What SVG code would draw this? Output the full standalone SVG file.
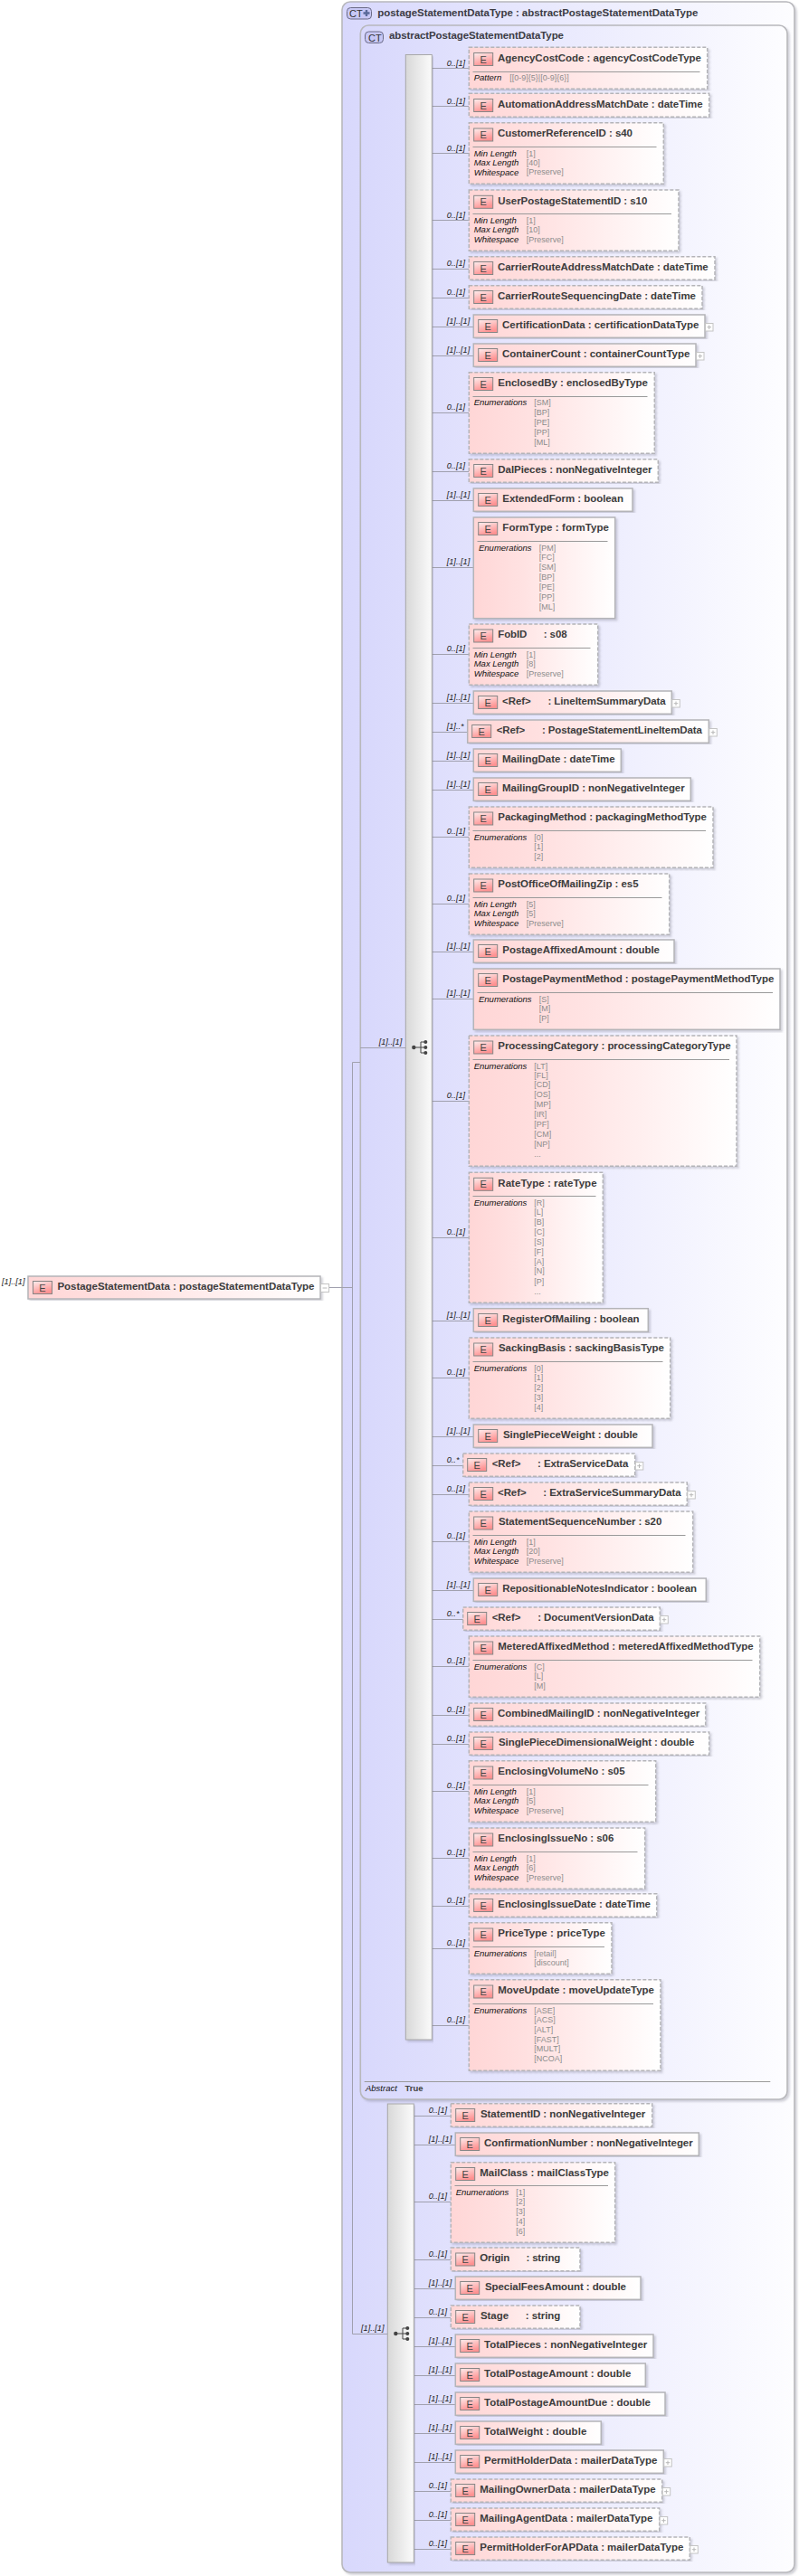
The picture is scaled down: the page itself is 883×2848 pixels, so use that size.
<svg xmlns="http://www.w3.org/2000/svg" width="883" height="2848" viewBox="0 0 883 2848">
<style>
text{font-family:"Liberation Sans",Arial,sans-serif;white-space:pre}
.n,.o{fill:url(#nf);stroke:#b4b4b8;stroke-width:1.5;filter:url(#sh)}
.o{stroke-dasharray:4 2}
.e{fill:url(#ef);stroke:#858585;stroke-width:1}
.el{font-size:11px;fill:#444;text-anchor:middle}
.nm{font-size:11.5px;font-weight:bold;fill:#3c3c3c}
.sp{stroke:#9a9a9a;stroke-width:1;fill:none}
.fl{font-size:9.5px;font-style:italic;fill:#111}
.fv{font-size:9px;fill:#8c8c8c}
.c{stroke:#a0a0ae;stroke-width:1;fill:none}
.m{font-size:9.2px;font-style:italic;fill:#222}
.pb{fill:#fff;stroke:#c4c4c4;stroke-width:1}
.pl{stroke:#b8b8b8;stroke-width:1;fill:none}
.box{stroke:#b8b8bc;stroke-width:1.6;filter:url(#sh)}
.seq{fill:url(#sf);stroke:#a8a8a8;stroke-width:1;filter:url(#sh)}
.pill{fill:#c8c8f6;stroke:#6a6a86;stroke-width:1}
.pt{font-size:11px;fill:#333}
.ti{font-size:11.5px;font-weight:bold;fill:#3c3c44}
.ic{fill:#444;stroke:none}
.il{stroke:#444;stroke-width:1;fill:none}
</style>
<defs>
<linearGradient id="nf" x1="0" x2="1" y1="0" y2="0"><stop offset="0" stop-color="#ffd6d6"/><stop offset="0.35" stop-color="#ffe2e2"/><stop offset="1" stop-color="#ffffff"/></linearGradient>
<linearGradient id="ef" x1="0" x2="0.4" y1="0" y2="1"><stop offset="0" stop-color="#fdeeee"/><stop offset="1" stop-color="#ff9292"/></linearGradient>
<linearGradient id="bf" x1="0" x2="1" y1="0" y2="0"><stop offset="0" stop-color="#d8d8fc"/><stop offset="1" stop-color="#fdfdff"/></linearGradient>
<linearGradient id="sf" x1="0" x2="1" y1="0" y2="0"><stop offset="0" stop-color="#d8d8d8"/><stop offset="1" stop-color="#fbfbfb"/></linearGradient>
<filter id="sh" x="-5%" y="-5%" width="110%" height="110%"><feDropShadow dx="2" dy="2" stdDeviation="1" flood-color="#707080" flood-opacity="0.3"/></filter>
</defs>
<rect width="883" height="2848" fill="#fff"/>

<g id="type-postageStatementDataType">
<rect class="box" x="378" y="2" width="500" height="2842" rx="9" fill="url(#bf)"/>
<rect class="pill" x="383.5" y="8.5" width="27" height="12.5" rx="4"/>
<text class="pt" x="386" y="19">CT</text>
<path d="M405 11v7M401.5 14.5h7" stroke="#5a6a9a" stroke-width="2.4" fill="none"/>
<text class="ti" x="417.3" y="18" textLength="354">postageStatementDataType : abstractPostageStatementDataType</text>
</g>
<g id="type-abstractPostageStatementDataType">
<rect class="box" x="398.3" y="28" width="471.7" height="2293" rx="9" fill="url(#bf)"/>
<rect class="pill" x="403.5" y="35" width="20" height="12.5" rx="4"/>
<text class="pt" x="407" y="45.5">CT</text>
<text class="ti" x="430" y="43" textLength="193">abstractPostageStatementDataType</text>
<path class="sp" d="M402.7 2301.5H851.3"/>
<text class="fl" x="404" y="2311.5">Abstract</text>
<text x="447.5" y="2311.5" style="font-size:9.5px;font-weight:bold;fill:#444">True</text>
</g>

<g id="connectors">
<path class="c" d="M363 1423.5H389.5M389.5 2580.5V1174.5H398M398 1158.5H448M389.5 2580.5H428"/>
<path class="c" d="M477 75.5H518M477 117.5H518M477 169.5H518M477 243.5H518M477 297.5H518M477 329.5H518M477 361.5H523M477 393.5H523M477 456.5H518M477 521.5H518M477 553.5H523M477 627.5H523M477 723.5H518M477 777.5H523M477 809.5H517M477 841.5H523M477 873.5H523M477 925.5H518M477 999.5H518M477 1052.5H523M477 1104.5H523M477 1217.5H518M477 1368.5H518M477 1460.5H523M477 1523.5H518M477 1588.5H523M477 1620.5H512M477 1652.5H518M477 1704.5H518M477 1758.5H523M477 1790.5H512M477 1842.5H518M477 1896.5H518M477 1928.5H518M477 1980.5H518M477 2054.5H518M477 2107.5H518M477 2154.5H518M477 2239.5H518"/>
<path class="c" d="M458 2339.5H498M458 2371.5H503M458 2434.5H498M458 2498.5H498M458 2530.5H503M458 2562.5H498M458 2594.5H503M458 2626.5H503M458 2658.5H503M458 2690.5H503M458 2722.5H503M458 2754.5H498M458 2786.5H498M458 2818.5H498"/>
<text class="m" x="2" y="1420">[1]..[1]</text>
<text class="m" x="418.7" y="1155">[1]..[1]</text>
<text class="m" x="399" y="2577">[1]..[1]</text>
<text class="m" x="493.7" y="72.5">0..[1]</text>
<text class="m" x="493.7" y="114.5">0..[1]</text>
<text class="m" x="493.7" y="166.5">0..[1]</text>
<text class="m" x="493.7" y="240.5">0..[1]</text>
<text class="m" x="493.7" y="294">0..[1]</text>
<text class="m" x="493.7" y="326">0..[1]</text>
<text class="m" x="493.7" y="358">[1]..[1]</text>
<text class="m" x="493.7" y="390">[1]..[1]</text>
<text class="m" x="493.7" y="453">0..[1]</text>
<text class="m" x="493.7" y="518">0..[1]</text>
<text class="m" x="493.7" y="550">[1]..[1]</text>
<text class="m" x="493.7" y="624">[1]..[1]</text>
<text class="m" x="493.7" y="720">0..[1]</text>
<text class="m" x="493.7" y="774">[1]..[1]</text>
<text class="m" x="493.7" y="806">[1]..*</text>
<text class="m" x="493.7" y="838">[1]..[1]</text>
<text class="m" x="493.7" y="870">[1]..[1]</text>
<text class="m" x="493.7" y="922">0..[1]</text>
<text class="m" x="493.7" y="996">0..[1]</text>
<text class="m" x="493.7" y="1049">[1]..[1]</text>
<text class="m" x="493.7" y="1101">[1]..[1]</text>
<text class="m" x="493.7" y="1214">0..[1]</text>
<text class="m" x="493.7" y="1365">0..[1]</text>
<text class="m" x="493.7" y="1457">[1]..[1]</text>
<text class="m" x="493.7" y="1520">0..[1]</text>
<text class="m" x="493.7" y="1585">[1]..[1]</text>
<text class="m" x="493.7" y="1617">0..*</text>
<text class="m" x="493.7" y="1649">0..[1]</text>
<text class="m" x="493.7" y="1701">0..[1]</text>
<text class="m" x="493.7" y="1755">[1]..[1]</text>
<text class="m" x="493.7" y="1787">0..*</text>
<text class="m" x="493.7" y="1839">0..[1]</text>
<text class="m" x="493.7" y="1893">0..[1]</text>
<text class="m" x="493.7" y="1925">0..[1]</text>
<text class="m" x="493.7" y="1977">0..[1]</text>
<text class="m" x="493.7" y="2051">0..[1]</text>
<text class="m" x="493.7" y="2104">0..[1]</text>
<text class="m" x="493.7" y="2151">0..[1]</text>
<text class="m" x="493.7" y="2236">0..[1]</text>
<text class="m" x="473.7" y="2336">0..[1]</text>
<text class="m" x="473.7" y="2368">[1]..[1]</text>
<text class="m" x="473.7" y="2431">0..[1]</text>
<text class="m" x="473.7" y="2495">0..[1]</text>
<text class="m" x="473.7" y="2527">[1]..[1]</text>
<text class="m" x="473.7" y="2559">0..[1]</text>
<text class="m" x="473.7" y="2591">[1]..[1]</text>
<text class="m" x="473.7" y="2623">[1]..[1]</text>
<text class="m" x="473.7" y="2655">[1]..[1]</text>
<text class="m" x="473.7" y="2687">[1]..[1]</text>
<text class="m" x="473.7" y="2719">[1]..[1]</text>
<text class="m" x="473.7" y="2751">0..[1]</text>
<text class="m" x="473.7" y="2783">0..[1]</text>
<text class="m" x="473.7" y="2815">0..[1]</text>
</g>

<g id="seq-1">
<rect class="seq" x="448.3" y="60.5" width="29" height="2194.5"/>
<circle class="ic" cx="457.3" cy="1158" r="2.2"/><circle class="ic" cx="470.3" cy="1152" r="2"/><circle class="ic" cx="470.3" cy="1158" r="2"/><circle class="ic" cx="470.3" cy="1164" r="2"/>
<path class="il" d="M457.3 1158H470M465 1152H470M465 1164H470M465 1152V1164"/>
</g>
<g id="seq-2">
<rect class="seq" x="428.3" y="2326" width="29" height="507"/>
<circle class="ic" cx="437.3" cy="2580" r="2.2"/><circle class="ic" cx="450.3" cy="2574" r="2"/><circle class="ic" cx="450.3" cy="2580" r="2"/><circle class="ic" cx="450.3" cy="2586" r="2"/>
<path class="il" d="M437.3 2580H450M445 2574H450M445 2586H450M445 2574V2586"/>
</g>

<g id="PostageStatementData">
<rect class="n" x="31" y="1411" width="323" height="25"/><rect class="e" x="36.5" y="1416.5" width="21" height="14"/><text class="el" x="47" y="1428">E</text>
<text class="nm" x="63.5" y="1425.5" textLength="284">PostageStatementData : postageStatementDataType</text>
<rect class="pb" x="354.5" y="1419.5" width="9" height="9"/><path class="pl" d="M356.5 1424H361.5"/>
</g>

<g id="AgencyCostCode"><rect class="o" x="518.3" y="52.3" width="263.4" height="46"/><rect class="e" x="523.7" y="58.5" width="21" height="14"/><text class="el" x="534.2" y="69.5">E</text><text class="nm" x="550" y="68" textLength="225">AgencyCostCode : agencyCostCodeType</text><path class="sp" d="M522.5 79.5H773.5"/><text class="fl" x="523.7" y="89.3">Pattern</text><text class="fv" x="563.3" y="89">[[0-9]{5}|[0-9]{6}]</text></g>
<g id="AutomationAddressMatchDate"><rect class="o" x="518.3" y="103.3" width="265.4" height="26"/><rect class="e" x="523.7" y="109.5" width="21" height="14"/><text class="el" x="534.2" y="120.5">E</text><text class="nm" x="550" y="119" textLength="226.7">AutomationAddressMatchDate : dateTime</text></g>
<g id="CustomerReferenceID"><rect class="o" x="518.3" y="135.7" width="215" height="67.6"/><rect class="e" x="523.7" y="142" width="21" height="14"/><text class="el" x="534.2" y="153">E</text><text class="nm" x="550" y="151.2" textLength="149">CustomerReferenceID : s40</text><path class="sp" d="M522.5 162.5H725.5"/><text class="fl" x="523.7" y="172.7">Min Length</text><text class="fl" x="523.7" y="182.7">Max Length</text><text class="fl" x="523.7" y="193.5">Whitespace</text><text class="fv" x="581.7" y="172.5">[1]</text><text class="fv" x="581.7" y="182.5">[40]</text><text class="fv" x="581.7" y="193.2">[Preserve]</text></g>
<g id="UserPostageStatementID"><rect class="o" x="518.3" y="210" width="231.7" height="67.3"/><rect class="e" x="523.7" y="216.3" width="21" height="14"/><text class="el" x="534.2" y="227.3">E</text><text class="nm" x="550.3" y="225.5" textLength="165">UserPostageStatementID : s10</text><path class="sp" d="M522.5 236.5H742H742"/><text class="fl" x="523.7" y="247">Min Length</text><text class="fl" x="523.7" y="257">Max Length</text><text class="fl" x="523.7" y="267.8">Whitespace</text><text class="fv" x="581.7" y="246.8">[1]</text><text class="fv" x="581.7" y="256.8">[10]</text><text class="fv" x="581.7" y="267.5">[Preserve]</text></g>
<g id="CarrierRouteAddressMatchDate"><rect class="o" x="518.3" y="283.7" width="271.7" height="25.6"/><rect class="e" x="523.7" y="289.5" width="21" height="14"/><text class="el" x="534.2" y="300.7">E</text><text class="nm" x="550" y="299" textLength="232.7">CarrierRouteAddressMatchDate : dateTime</text></g>
<g id="CarrierRouteSequencingDate"><rect class="o" x="518.3" y="315.7" width="257.7" height="25.6"/><rect class="e" x="523.7" y="321.5" width="21" height="14"/><text class="el" x="534.2" y="332.7">E</text><text class="nm" x="550" y="331" textLength="219">CarrierRouteSequencingDate : dateTime</text></g>
<g id="CertificationData"><rect class="n" x="523.3" y="348" width="255.7" height="25.3"/><rect class="e" x="528.7" y="353.5" width="21" height="14"/><text class="el" x="539.2" y="364.7">E</text><text class="nm" x="555" y="363" textLength="217.3">CertificationData : certificationDataType</text><rect class="pb" x="779.5" y="357.5" width="8.5" height="8.5"/><path class="pl" d="M781.5 361.7H786M783.7 359.5V364"/></g>
<g id="ContainerCount"><rect class="n" x="523.3" y="380" width="245.7" height="25.3"/><rect class="e" x="528.7" y="385.5" width="21" height="14"/><text class="el" x="539.2" y="396.7">E</text><text class="nm" x="555" y="395" textLength="207.3">ContainerCount : containerCountType</text><rect class="pb" x="769.5" y="389.5" width="8.5" height="8.5"/><path class="pl" d="M771.5 393.7H776M773.7 391.5V396"/></g>
<g id="EnclosedBy"><rect class="o" x="518.3" y="411.7" width="205" height="89.6"/><rect class="e" x="523.7" y="417.5" width="21" height="14"/><text class="el" x="534.2" y="428.7">E</text><text class="nm" x="550.3" y="427" textLength="165.7">EnclosedBy : enclosedByType</text><path class="sp" d="M522.5 438.5H715.5"/><text class="fl" x="523.7" y="448.2">Enumerations</text><text class="fv" x="590.3" y="448">[SM]</text><text class="fv" x="590.3" y="458.5">[BP]</text><text class="fv" x="590.3" y="469.5">[PE]</text><text class="fv" x="590.3" y="480.5">[PP]</text><text class="fv" x="590.3" y="491.5">[ML]</text></g>
<g id="DalPieces"><rect class="o" x="518.3" y="507.7" width="209" height="25.6"/><rect class="e" x="523.7" y="513.5" width="21" height="14"/><text class="el" x="534.2" y="524.7">E</text><text class="nm" x="550.3" y="523" textLength="170.3">DalPieces : nonNegativeInteger</text></g>
<g id="ExtendedForm"><rect class="n" x="523.3" y="540" width="175.7" height="25.3"/><rect class="e" x="528.7" y="545.5" width="21" height="14"/><text class="el" x="539.2" y="556.7">E</text><text class="nm" x="555.3" y="555" textLength="133.7">ExtendedForm : boolean</text></g>
<g id="FormType"><rect class="n" x="523.3" y="572" width="156.4" height="111.7"/><rect class="e" x="528.7" y="577.5" width="21" height="14"/><text class="el" x="539.2" y="588.7">E</text><text class="nm" x="555.3" y="587" textLength="117.7">FormType : formType</text><path class="sp" d="M527.5 598.5H671.5"/><text class="fl" x="529" y="608.5">Enumerations</text><text class="fv" x="595.7" y="608.5">[PM]</text><text class="fv" x="595.7" y="618.7">[FC]</text><text class="fv" x="595.7" y="629.5">[SM]</text><text class="fv" x="595.7" y="640.5">[BP]</text><text class="fv" x="595.7" y="651.5">[PE]</text><text class="fv" x="595.7" y="662.5">[PP]</text><text class="fv" x="595.7" y="673.5">[ML]</text></g>
<g id="FobID"><rect class="o" x="518.3" y="690" width="142.4" height="67.3"/><rect class="e" x="523.7" y="696" width="21" height="14"/><text class="el" x="534.2" y="707">E</text><text class="nm" x="550.3" y="705.2" textLength="76.3">FobID      : s08</text><path class="sp" d="M522.5 716.5H652.5"/><text class="fl" x="523.7" y="727">Min Length</text><text class="fl" x="523.7" y="737">Max Length</text><text class="fl" x="523.7" y="748">Whitespace</text><text class="fv" x="581.7" y="726.8">[1]</text><text class="fv" x="581.7" y="736.8">[8]</text><text class="fv" x="581.7" y="747.5">[Preserve]</text></g>
<g id="LineItemSummaryData"><rect class="n" x="523.3" y="764" width="219" height="25.3"/><rect class="e" x="528.7" y="769.5" width="21" height="14"/><text class="el" x="539.2" y="780.7">E</text><text class="nm" x="555" y="779" textLength="180.7">&lt;Ref&gt;      : LineItemSummaryData</text><rect class="pb" x="742.8" y="773.5" width="8.5" height="8.5"/><path class="pl" d="M744.8 777.7H749.3M747 775.5V780"/></g>
<g id="PostageStatementLineItemData"><rect class="n" x="516.7" y="796" width="266.6" height="25.3"/><rect class="e" x="521.7" y="801.5" width="21" height="14"/><text class="el" x="532.2" y="812.7">E</text><text class="nm" x="548.7" y="811" textLength="227.3">&lt;Ref&gt;      : PostageStatementLineItemData</text><rect class="pb" x="783.8" y="805.5" width="8.5" height="8.5"/><path class="pl" d="M785.8 809.7H790.3M788 807.5V812"/></g>
<g id="MailingDate"><rect class="n" x="523.3" y="828" width="163" height="25.3"/><rect class="e" x="528.7" y="833.5" width="21" height="14"/><text class="el" x="539.2" y="844.7">E</text><text class="nm" x="555" y="843" textLength="124.7">MailingDate : dateTime</text></g>
<g id="MailingGroupID"><rect class="n" x="523.3" y="860" width="240" height="25.3"/><rect class="e" x="528.7" y="865.5" width="21" height="14"/><text class="el" x="539.2" y="876.7">E</text><text class="nm" x="555" y="875" textLength="201.7">MailingGroupID : nonNegativeInteger</text></g>
<g id="PackagingMethod"><rect class="o" x="518.3" y="892" width="269.7" height="67.3"/><rect class="e" x="523.7" y="898" width="21" height="14"/><text class="el" x="534.2" y="909">E</text><text class="nm" x="550.3" y="907.3" textLength="230.7">PackagingMethod : packagingMethodType</text><path class="sp" d="M522.5 918.5H780"/><text class="fl" x="523.7" y="929">Enumerations</text><text class="fv" x="590.3" y="928.8">[0]</text><text class="fv" x="590.3" y="939">[1]</text><text class="fv" x="590.3" y="949.7">[2]</text></g>
<g id="PostOfficeOfMailingZip"><rect class="o" x="518.3" y="966" width="221.4" height="67.3"/><rect class="e" x="523.7" y="972" width="21" height="14"/><text class="el" x="534.2" y="983">E</text><text class="nm" x="550.3" y="981.2" textLength="155.3">PostOfficeOfMailingZip : es5</text><path class="sp" d="M522.5 992.5H731.5"/><text class="fl" x="523.7" y="1003">Min Length</text><text class="fl" x="523.7" y="1013">Max Length</text><text class="fl" x="523.7" y="1024">Whitespace</text><text class="fv" x="581.7" y="1003">[5]</text><text class="fv" x="581.7" y="1013">[5]</text><text class="fv" x="581.7" y="1023.7">[Preserve]</text></g>
<g id="PostageAffixedAmount"><rect class="n" x="523.3" y="1039" width="221.7" height="25.3"/><rect class="e" x="528.7" y="1044.5" width="21" height="14"/><text class="el" x="539.2" y="1055.7">E</text><text class="nm" x="555.3" y="1054" textLength="173.7">PostageAffixedAmount : double</text></g>
<g id="PostagePaymentMethod"><rect class="n" x="523.3" y="1071" width="338.7" height="67.3"/><rect class="e" x="528.7" y="1076.5" width="21" height="14"/><text class="el" x="539.2" y="1087.7">E</text><text class="nm" x="555.3" y="1086" textLength="300">PostagePaymentMethod : postagePaymentMethodType</text><path class="sp" d="M527.5 1097.5H854"/><text class="fl" x="529" y="1108">Enumerations</text><text class="fv" x="595.7" y="1107.8">[S]</text><text class="fv" x="595.7" y="1118">[M]</text><text class="fv" x="595.7" y="1128.7">[P]</text></g>
<g id="ProcessingCategory"><rect class="o" x="518.3" y="1145" width="295.7" height="144.3"/><rect class="e" x="523.7" y="1151" width="21" height="14"/><text class="el" x="534.2" y="1162">E</text><text class="nm" x="550.3" y="1160.3" textLength="257.3">ProcessingCategory : processingCategoryType</text><path class="sp" d="M522.5 1171.5H806"/><text class="fl" x="523.7" y="1181.8">Enumerations</text><text class="fv" x="590.3" y="1181.7">[LT]</text><text class="fv" x="590.3" y="1191.7">[FL]</text><text class="fv" x="590.3" y="1202.3">[CD]</text><text class="fv" x="590.3" y="1213">[OS]</text><text class="fv" x="590.3" y="1224">[MP]</text><text class="fv" x="590.3" y="1235">[IR]</text><text class="fv" x="590.3" y="1246">[PF]</text><text class="fv" x="590.3" y="1256.7">[CM]</text><text class="fv" x="590.3" y="1268">[NP]</text><text class="fv" x="590.3" y="1279">...</text></g>
<g id="RateType"><rect class="o" x="518.3" y="1296.3" width="148" height="144"/><rect class="e" x="523.7" y="1302.3" width="21" height="14"/><text class="el" x="534.2" y="1313.3">E</text><text class="nm" x="550.3" y="1311.7" textLength="109.3">RateType : rateType</text><path class="sp" d="M522.5 1322.5H658.5"/><text class="fl" x="523.7" y="1333">Enumerations</text><text class="fv" x="590.3" y="1333">[R]</text><text class="fv" x="590.3" y="1343">[L]</text><text class="fv" x="590.3" y="1353.7">[B]</text><text class="fv" x="590.3" y="1364.5">[C]</text><text class="fv" x="590.3" y="1375.5">[S]</text><text class="fv" x="590.3" y="1386.5">[F]</text><text class="fv" x="590.3" y="1397.5">[A]</text><text class="fv" x="590.3" y="1408.3">[N]</text><text class="fv" x="590.3" y="1419.5">[P]</text><text class="fv" x="590.3" y="1430.5">...</text></g>
<g id="RegisterOfMailing"><rect class="n" x="523.3" y="1446.7" width="193" height="25.6"/><rect class="e" x="528.7" y="1452.5" width="21" height="14"/><text class="el" x="539.2" y="1463.7">E</text><text class="nm" x="555.3" y="1462" textLength="151.3">RegisterOfMailing : boolean</text></g>
<g id="SackingBasis"><rect class="o" x="518.3" y="1479" width="222.4" height="89.3"/><rect class="e" x="523.7" y="1485" width="21" height="14"/><text class="el" x="534.2" y="1496">E</text><text class="nm" x="551" y="1494.3" textLength="183">SackingBasis : sackingBasisType</text><path class="sp" d="M522.5 1505.5H732.5"/><text class="fl" x="523.7" y="1516">Enumerations</text><text class="fv" x="590.3" y="1515.8">[0]</text><text class="fv" x="590.3" y="1526">[1]</text><text class="fv" x="590.3" y="1536.8">[2]</text><text class="fv" x="590.3" y="1547.8">[3]</text><text class="fv" x="590.3" y="1558.8">[4]</text></g>
<g id="SinglePieceWeight"><rect class="n" x="523.3" y="1575" width="197.7" height="25.3"/><rect class="e" x="528.7" y="1580.5" width="21" height="14"/><text class="el" x="539.2" y="1591.7">E</text><text class="nm" x="556" y="1590" textLength="149">SinglePieceWeight : double</text></g>
<g id="ExtraServiceData"><rect class="o" x="511.7" y="1607" width="190" height="25.3"/><rect class="e" x="516.7" y="1612.5" width="21" height="14"/><text class="el" x="527.2" y="1623.7">E</text><text class="nm" x="543.7" y="1622" textLength="150.7">&lt;Ref&gt;      : ExtraServiceData</text><rect class="pb" x="702.3" y="1616.5" width="8.5" height="8.5"/><path class="pl" d="M704.3 1620.7H708.8M706.5 1618.5V1623"/></g>
<g id="ExtraServiceSummaryData"><rect class="o" x="518.3" y="1639" width="241" height="25.3"/><rect class="e" x="523.7" y="1644.5" width="21" height="14"/><text class="el" x="534.2" y="1655.7">E</text><text class="nm" x="550" y="1654" textLength="202.7">&lt;Ref&gt;      : ExtraServiceSummaryData</text><rect class="pb" x="759.8" y="1648.5" width="8.5" height="8.5"/><path class="pl" d="M761.8 1652.7H766.3M764 1650.5V1655"/></g>
<g id="StatementSequenceNumber"><rect class="o" x="518.3" y="1671" width="247.4" height="67.3"/><rect class="e" x="523.7" y="1677" width="21" height="14"/><text class="el" x="534.2" y="1688">E</text><text class="nm" x="551" y="1686.3" textLength="180.3">StatementSequenceNumber : s20</text><path class="sp" d="M522.5 1697.5H757.5"/><text class="fl" x="523.7" y="1708">Min Length</text><text class="fl" x="523.7" y="1718">Max Length</text><text class="fl" x="523.7" y="1729">Whitespace</text><text class="fv" x="581.7" y="1708">[1]</text><text class="fv" x="581.7" y="1718">[20]</text><text class="fv" x="581.7" y="1728.7">[Preserve]</text></g>
<g id="RepositionableNotesIndicator"><rect class="n" x="523.3" y="1745" width="257" height="25.3"/><rect class="e" x="528.7" y="1750.5" width="21" height="14"/><text class="el" x="539.2" y="1761.7">E</text><text class="nm" x="555.3" y="1760" textLength="214.7">RepositionableNotesIndicator : boolean</text></g>
<g id="DocumentVersionData"><rect class="o" x="511.7" y="1777" width="217.6" height="25.3"/><rect class="e" x="516.7" y="1782.5" width="21" height="14"/><text class="el" x="527.2" y="1793.7">E</text><text class="nm" x="543.7" y="1792" textLength="179">&lt;Ref&gt;      : DocumentVersionData</text><rect class="pb" x="729.8" y="1786.5" width="8.5" height="8.5"/><path class="pl" d="M731.8 1790.7H736.3M734 1788.5V1793"/></g>
<g id="MeteredAffixedMethod"><rect class="o" x="518.3" y="1809" width="321.4" height="67.3"/><rect class="e" x="523.7" y="1815" width="21" height="14"/><text class="el" x="534.2" y="1826">E</text><text class="nm" x="550.3" y="1824.3" textLength="282.3">MeteredAffixedMethod : meteredAffixedMethodType</text><path class="sp" d="M522.5 1835.5H831.5"/><text class="fl" x="523.7" y="1846">Enumerations</text><text class="fv" x="590.3" y="1845.8">[C]</text><text class="fv" x="590.3" y="1856">[L]</text><text class="fv" x="590.3" y="1866.7">[M]</text></g>
<g id="CombinedMailingID"><rect class="o" x="518.3" y="1883" width="261.4" height="25.3"/><rect class="e" x="523.7" y="1888.5" width="21" height="14"/><text class="el" x="534.2" y="1899.7">E</text><text class="nm" x="550" y="1898" textLength="223.3">CombinedMailingID : nonNegativeInteger</text></g>
<g id="SinglePieceDimensionalWeight"><rect class="o" x="518.3" y="1915" width="265.4" height="25.3"/><rect class="e" x="523.7" y="1920.5" width="21" height="14"/><text class="el" x="534.2" y="1931.7">E</text><text class="nm" x="551" y="1930" textLength="216.3">SinglePieceDimensionalWeight : double</text></g>
<g id="EnclosingVolumeNo"><rect class="o" x="518.3" y="1946.7" width="206.4" height="67.6"/><rect class="e" x="523.7" y="1953" width="21" height="14"/><text class="el" x="534.2" y="1964">E</text><text class="nm" x="550.3" y="1962.2" textLength="140.3">EnclosingVolumeNo : s05</text><path class="sp" d="M522.5 1973.5H716.5"/><text class="fl" x="523.7" y="1984">Min Length</text><text class="fl" x="523.7" y="1994">Max Length</text><text class="fl" x="523.7" y="2005">Whitespace</text><text class="fv" x="581.7" y="1984">[1]</text><text class="fv" x="581.7" y="1994">[5]</text><text class="fv" x="581.7" y="2004.7">[Preserve]</text></g>
<g id="EnclosingIssueNo"><rect class="o" x="518.3" y="2021" width="194.4" height="67.3"/><rect class="e" x="523.7" y="2027" width="21" height="14"/><text class="el" x="534.2" y="2038">E</text><text class="nm" x="550.3" y="2036.2" textLength="128">EnclosingIssueNo : s06</text><path class="sp" d="M522.5 2047.5H704.5"/><text class="fl" x="523.7" y="2058">Min Length</text><text class="fl" x="523.7" y="2068">Max Length</text><text class="fl" x="523.7" y="2079">Whitespace</text><text class="fv" x="581.7" y="2058">[1]</text><text class="fv" x="581.7" y="2068">[6]</text><text class="fv" x="581.7" y="2078.7">[Preserve]</text></g>
<g id="EnclosingIssueDate"><rect class="o" x="518.3" y="2093.7" width="207.4" height="25.6"/><rect class="e" x="523.7" y="2099.5" width="21" height="14"/><text class="el" x="534.2" y="2110.7">E</text><text class="nm" x="550.3" y="2109" textLength="168.7">EnclosingIssueDate : dateTime</text></g>
<g id="PriceType"><rect class="o" x="518.3" y="2125.7" width="157.7" height="56.6"/><rect class="e" x="523.7" y="2132" width="21" height="14"/><text class="el" x="534.2" y="2143">E</text><text class="nm" x="550.3" y="2141.2" textLength="118.7">PriceType : priceType</text><path class="sp" d="M522.5 2152.5H668"/><text class="fl" x="523.7" y="2162.7">Enumerations</text><text class="fv" x="590.3" y="2162.5">[retail]</text><text class="fv" x="590.3" y="2172.5">[discount]</text></g>
<g id="MoveUpdate"><rect class="o" x="518.3" y="2188.7" width="211.7" height="100.6"/><rect class="e" x="523.7" y="2195" width="21" height="14"/><text class="el" x="534.2" y="2206">E</text><text class="nm" x="550.3" y="2204.2" textLength="172.7">MoveUpdate : moveUpdateType</text><path class="sp" d="M522.5 2215.5H722"/><text class="fl" x="523.7" y="2225.7">Enumerations</text><text class="fv" x="590.3" y="2225.5">[ASE]</text><text class="fv" x="590.3" y="2235.5">[ACS]</text><text class="fv" x="590.3" y="2246.5">[ALT]</text><text class="fv" x="590.3" y="2257.5">[FAST]</text><text class="fv" x="590.3" y="2268">[MULT]</text><text class="fv" x="590.3" y="2279">[NCOA]</text></g>

<g id="StatementID"><rect class="o" x="498.3" y="2325.7" width="222.4" height="25.6"/><rect class="e" x="503.7" y="2331.5" width="21" height="14"/><text class="el" x="514.2" y="2342.7">E</text><text class="nm" x="531" y="2341" textLength="182.3">StatementID : nonNegativeInteger</text></g>
<g id="ConfirmationNumber"><rect class="n" x="503.3" y="2358" width="269" height="25.3"/><rect class="e" x="508.7" y="2363.5" width="21" height="14"/><text class="el" x="519.2" y="2374.7">E</text><text class="nm" x="535" y="2373" textLength="230.7">ConfirmationNumber : nonNegativeInteger</text></g>
<g id="MailClass"><rect class="o" x="498.3" y="2390.7" width="181.4" height="88.6"/><rect class="e" x="503.7" y="2396.5" width="21" height="14"/><text class="el" x="514.2" y="2407.7">E</text><text class="nm" x="530.3" y="2405.8" textLength="142.7">MailClass : mailClassType</text><path class="sp" d="M502.5 2416.5H672"/><text class="fl" x="503.7" y="2427">Enumerations</text><text class="fv" x="570.3" y="2426.8">[1]</text><text class="fv" x="570.3" y="2437">[2]</text><text class="fv" x="570.3" y="2447.7">[3]</text><text class="fv" x="570.3" y="2458.7">[4]</text><text class="fv" x="570.3" y="2469.7">[6]</text></g>
<g id="Origin"><rect class="o" x="498.3" y="2485" width="142.7" height="25.7"/><rect class="e" x="503.7" y="2491" width="21" height="14"/><text class="el" x="514.2" y="2502">E</text><text class="nm" x="530.3" y="2500.3" textLength="89">Origin      : string</text></g>
<g id="SpecialFeesAmount"><rect class="n" x="503.3" y="2517" width="204.7" height="25.3"/><rect class="e" x="508.7" y="2522.5" width="21" height="14"/><text class="el" x="519.2" y="2533.7">E</text><text class="nm" x="536" y="2532" textLength="156">SpecialFeesAmount : double</text></g>
<g id="Stage"><rect class="o" x="498.3" y="2549" width="142.7" height="25.3"/><rect class="e" x="503.7" y="2554.5" width="21" height="14"/><text class="el" x="514.2" y="2565.7">E</text><text class="nm" x="531" y="2564" textLength="88.3">Stage      : string</text></g>
<g id="TotalPieces"><rect class="n" x="503.3" y="2581" width="218.7" height="25.3"/><rect class="e" x="508.7" y="2586.5" width="21" height="14"/><text class="el" x="519.2" y="2597.7">E</text><text class="nm" x="535" y="2596" textLength="180.3">TotalPieces : nonNegativeInteger</text></g>
<g id="TotalPostageAmount"><rect class="n" x="503.3" y="2613" width="210" height="25.3"/><rect class="e" x="508.7" y="2618.5" width="21" height="14"/><text class="el" x="519.2" y="2629.7">E</text><text class="nm" x="535" y="2628" textLength="162.3">TotalPostageAmount : double</text></g>
<g id="TotalPostageAmountDue"><rect class="n" x="503.3" y="2645" width="231.7" height="25.3"/><rect class="e" x="508.7" y="2650.5" width="21" height="14"/><text class="el" x="519.2" y="2661.7">E</text><text class="nm" x="535" y="2660" textLength="184">TotalPostageAmountDue : double</text></g>
<g id="TotalWeight"><rect class="n" x="503.3" y="2677" width="161" height="25.3"/><rect class="e" x="508.7" y="2682.5" width="21" height="14"/><text class="el" x="519.2" y="2693.7">E</text><text class="nm" x="535" y="2692" textLength="113.3">TotalWeight : double</text></g>
<g id="PermitHolderData"><rect class="n" x="503.3" y="2709" width="230" height="25.3"/><rect class="e" x="508.7" y="2714.5" width="21" height="14"/><text class="el" x="519.2" y="2725.7">E</text><text class="nm" x="535" y="2724" textLength="191.3">PermitHolderData : mailerDataType</text><rect class="pb" x="733.8" y="2718.5" width="8.5" height="8.5"/><path class="pl" d="M735.8 2722.7H740.3M738 2720.5V2725"/></g>
<g id="MailingOwnerData"><rect class="o" x="498.3" y="2741" width="233.4" height="25.3"/><rect class="e" x="503.7" y="2746.5" width="21" height="14"/><text class="el" x="514.2" y="2757.7">E</text><text class="nm" x="530.3" y="2756" textLength="194.3">MailingOwnerData : mailerDataType</text><rect class="pb" x="732.2" y="2750.5" width="8.5" height="8.5"/><path class="pl" d="M734.2 2754.7H738.7M736.4 2752.5V2757"/></g>
<g id="MailingAgentData"><rect class="o" x="498.3" y="2773" width="230.4" height="25.3"/><rect class="e" x="503.7" y="2778.5" width="21" height="14"/><text class="el" x="514.2" y="2789.7">E</text><text class="nm" x="530.3" y="2788" textLength="191">MailingAgentData : mailerDataType</text><rect class="pb" x="729.2" y="2782.5" width="8.5" height="8.5"/><path class="pl" d="M731.2 2786.7H735.7M733.4 2784.5V2789"/></g>
<g id="PermitHolderForAPData"><rect class="o" x="498.3" y="2805" width="264" height="25.3"/><rect class="e" x="503.7" y="2810.5" width="21" height="14"/><text class="el" x="514.2" y="2821.7">E</text><text class="nm" x="530.3" y="2820" textLength="225">PermitHolderForAPData : mailerDataType</text><rect class="pb" x="762.8" y="2814.5" width="8.5" height="8.5"/><path class="pl" d="M764.8 2818.7H769.3M767 2816.5V2821"/></g>
</svg>
